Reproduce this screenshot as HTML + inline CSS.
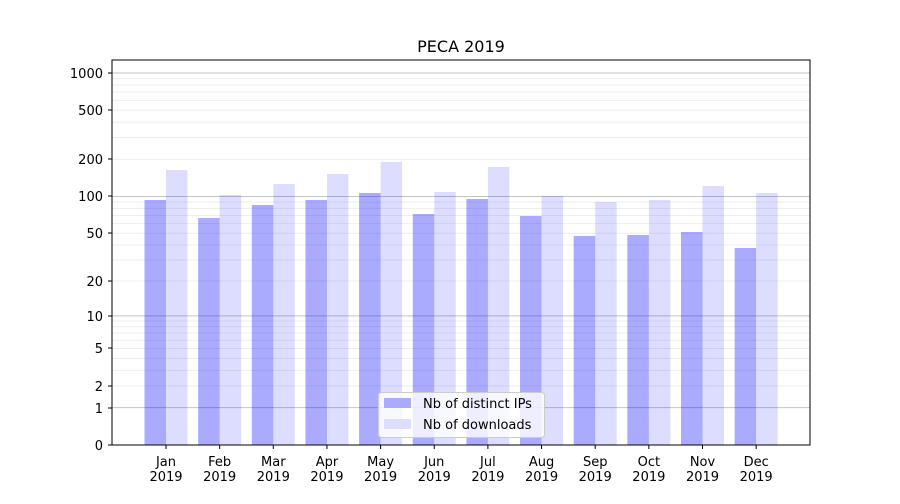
<!DOCTYPE html>
<html><head><meta charset="utf-8"><style>
body{margin:0;background:#fff;font-family:"DejaVu Sans","Liberation Sans",sans-serif;}
svg text{font-family:"DejaVu Sans","Liberation Sans",sans-serif;font-size:13px;fill:#000;}
</style></head><body>
<svg id="s" width="900" height="500" xmlns="http://www.w3.org/2000/svg">
<rect width="900" height="500" fill="#fff"/>
<g id="grid"></g>
<g id="bars"></g>
<rect x="112" y="60" width="698" height="385" fill="none" stroke="#000" stroke-width="1"/>
<text x="461" y="52" text-anchor="middle" style="font-size:16px">PECA 2019</text>
<g text-anchor="end">
<text x="103" y="78">1000</text>
<text x="103" y="115">500</text>
<text x="103" y="164">200</text>
<text x="103" y="201">100</text>
<text x="103" y="238">50</text>
<text x="103" y="286">20</text>
<text x="103" y="321">10</text>
<text x="103" y="353">5</text>
<text x="103" y="391">2</text>
<text x="103" y="413">1</text>
<text x="103" y="450">0</text>
</g>
<g id="xt" text-anchor="middle"></g>
<g>
<rect x="378.5" y="392.5" width="166" height="45" rx="3" fill="#fff" fill-opacity="0.8" stroke="#ccc"/>
<rect x="384" y="398" width="27" height="10" fill="#aaaaff"/>
<rect x="384" y="419" width="27" height="10" fill="#ddddff"/>
<text x="423" y="408">Nb of distinct IPs</text>
<text x="423" y="429">Nb of downloads</text>
</g>
</svg>
<script>
var ns="http://www.w3.org/2000/svg";
function el(p,t,a){var e=document.createElementNS(ns,t);for(var k in a)e.setAttribute(k,a[k]);document.getElementById(p).appendChild(e);return e;}
function Y(v){return 445-124*Math.log10(1+v);}
for(var d=0;d<=3;d++){for(var k=1;k<=9;k++){var v=k*Math.pow(10,d);if(v>1250)break;var y=Y(v);
el("grid","line",{x1:112,x2:810,y1:y,y2:y,stroke:k==1?"#c4c4c4":"#eeeeee","stroke-width":1});}}
var b=[200,218,205,200,193,214,199,216,236,235,232,248];
var l=[170,195,184,174,162,192,167,196,202,200,186,193];
var m=["Jan","Feb","Mar","Apr","May","Jun","Jul","Aug","Sep","Oct","Nov","Dec"];
for(var i=0;i<12;i++){var c=166+53.65*i;
el("bars","rect",{x:c-21.5,y:b[i],width:21.5,height:445-b[i],fill:"#0000ff","fill-opacity":0.333});
el("bars","rect",{x:c,y:l[i],width:21.5,height:445-l[i],fill:"#0000ff","fill-opacity":0.133});
el("xt","line",{x1:c,x2:c,y1:445,y2:449,stroke:"#000"});
var t=el("xt","text",{x:c,y:466});t.textContent=m[i];
var t2=el("xt","text",{x:c,y:481});t2.textContent="2019";}
[73,110,159,196,233,281,316,348,386,408,445].forEach(function(y){el("xt","line",{x1:108,x2:112,y1:y,y2:y,stroke:"#000"});});
</script>
</body></html>
